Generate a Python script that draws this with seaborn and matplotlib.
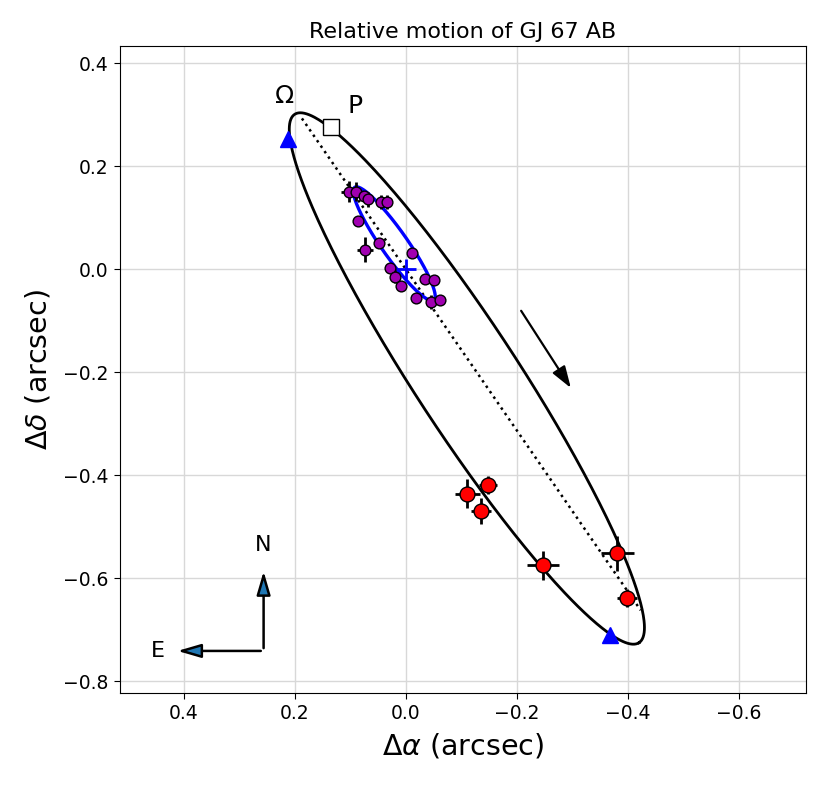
import matplotlib
matplotlib.use("Agg")
import matplotlib.pyplot as plt
import seaborn as sns
import pandas as pd
import numpy as np

# companion relative astrometry (red points), arcsec
comp_ra = [-0.111, -0.148, -0.135, -0.247, -0.381, -0.399]
comp_dec = [-0.436, -0.419, -0.469, -0.575, -0.551, -0.638]
comp_ra_err = [0.023, 0.016, 0.018, 0.029, 0.030, 0.018]
comp_dec_err = [0.028, 0.018, 0.025, 0.029, 0.034, 0.018]

# photocentre astrometry (magenta points), arcsec
phot_ra = [0.103, 0.089, 0.076, 0.068, 0.045, 0.033, 0.086, 0.049, 0.073,
           -0.012, 0.028, 0.019, 0.008, -0.034, -0.051, -0.019, -0.046, -0.061]
phot_dec = [0.151, 0.151, 0.142, 0.136, 0.131, 0.131, 0.094, 0.051, 0.038,
            0.032, 0.002, -0.014, -0.033, -0.018, -0.021, -0.056, -0.064, -0.059]
phot_ra_err = [0.013, 0.006, 0.004, 0.004, 0.004, 0.004, 0.004, 0.004, 0.014,
               0.004, 0.006, 0.006, 0.006, 0.004, 0.004, 0.004, 0.004, 0.004]
phot_dec_err = [0.021, 0.018, 0.006, 0.015, 0.014, 0.014, 0.005, 0.005, 0.024,
                0.005, 0.008, 0.012, 0.010, 0.008, 0.008, 0.006, 0.014, 0.006]

# best-fit relative orbit: centre and two conjugate semi-axes
orbit_center = (-0.110, -0.212)
orbit_axis_a = (-0.310, -0.513)
orbit_axis_b = (-0.0785, 0.0551)

# photocentre orbit
phot_center = (0.0207, 0.0495)
phot_axis_a = (-0.0712, -0.1097)
phot_axis_b = (-0.0192, 0.0145)

# line of nodes, node markers, periastron
nodes_line_ra = [0.187, -0.423]
nodes_line_dec = [0.293, -0.662]
node_ra = [0.212, -0.368]
node_dec = [0.254, -0.711]
peri_ra, peri_dec = 0.134, 0.276


def ellipse(center, a, b, n=400):
    t = np.linspace(0, 2 * np.pi, n)
    return pd.DataFrame({
        'ra': center[0] + a[0] * np.cos(t) + b[0] * np.sin(t),
        'dec': center[1] + a[1] * np.cos(t) + b[1] * np.sin(t),
    })


comp = pd.DataFrame({'ra': comp_ra, 'dec': comp_dec})
phot = pd.DataFrame({'ra': phot_ra, 'dec': phot_dec})

fig, ax = plt.subplots(figsize=(8.26, 7.85), dpi=100)
fig.subplots_adjust(left=0.145, right=0.976, top=0.941, bottom=0.117)

ax.plot(nodes_line_ra, nodes_line_dec, color='k', ls=':', lw=1.8, zorder=1)
sns.lineplot(data=ellipse(orbit_center, orbit_axis_a, orbit_axis_b), x='ra', y='dec',
             sort=False, estimator=None, color='k', lw=2, ax=ax, zorder=2)
sns.lineplot(data=ellipse(phot_center, phot_axis_a, phot_axis_b), x='ra', y='dec',
             sort=False, estimator=None, color='blue', lw=2.4, ax=ax, zorder=3)
ax.plot(0, 0, marker='+', color='blue', ms=15, mew=2, zorder=3)

ax.errorbar(phot_ra, phot_dec, xerr=phot_ra_err, yerr=phot_dec_err, fmt='none',
            ecolor='k', elinewidth=2, capsize=0, zorder=4)
sns.scatterplot(data=phot, x='ra', y='dec', color='#a000b0', edgecolor='k',
                linewidth=1, s=60, ax=ax, zorder=5)

ax.errorbar(comp_ra, comp_dec, xerr=comp_ra_err, yerr=comp_dec_err, fmt='none',
            ecolor='k', elinewidth=2, capsize=0, zorder=4)
sns.scatterplot(data=comp, x='ra', y='dec', color='red', edgecolor='k',
                linewidth=1, s=115, ax=ax, zorder=5)

ax.plot(node_ra, node_dec, ls='none', marker='^', color='blue', ms=12, zorder=6)
ax.plot(peri_ra, peri_dec, ls='none', marker='s', mfc='white', mec='k', ms=11, zorder=6)
ax.text(0.218, 0.336, 'Ω', fontsize=18, ha='center', va='center')
ax.text(0.092, 0.318, 'P', fontsize=18, ha='center', va='center')

# direction of motion
ax.annotate('', xy=(-0.300, -0.235), xytext=(-0.205, -0.076),
            arrowprops=dict(arrowstyle='-|>,head_length=0.6,head_width=0.2',
                            color='k', lw=1.6, mutation_scale=22))

# compass
corner = (0.256, -0.741)
head = '-|>,head_length=0.65,head_width=0.19'
ax.annotate('', xy=(corner[0], -0.581), xytext=corner,
            arrowprops=dict(arrowstyle=head, fc='C0', ec='k', lw=1.8, mutation_scale=22))
ax.annotate('', xy=(0.416, corner[1]), xytext=corner,
            arrowprops=dict(arrowstyle=head, fc='C0', ec='k', lw=1.8, mutation_scale=22))
ax.text(corner[0], -0.536, 'N', fontsize=16, ha='center', va='center')
ax.text(0.447, corner[1], 'E', fontsize=16, ha='center', va='center')

ax.set_xlim(0.515, -0.721)
ax.set_ylim(-0.823, 0.433)
ax.set_xticks([0.4, 0.2, 0.0, -0.2, -0.4, -0.6])
ax.set_yticks([0.4, 0.2, 0.0, -0.2, -0.4, -0.6, -0.8])
ax.grid(True, color='#d8d8d8', lw=1)
ax.set_axisbelow(True)
ax.tick_params(labelsize=13.5, length=4.5)
ax.set_xlabel(r'$\Delta\alpha$ (arcsec)', fontsize=20.5, labelpad=6)
ax.set_ylabel(r'$\Delta\delta$ (arcsec)', fontsize=20.5, labelpad=8)
ax.set_title('Relative motion of GJ 67 AB', fontsize=16)

fig.savefig('out.png', dpi=100)
